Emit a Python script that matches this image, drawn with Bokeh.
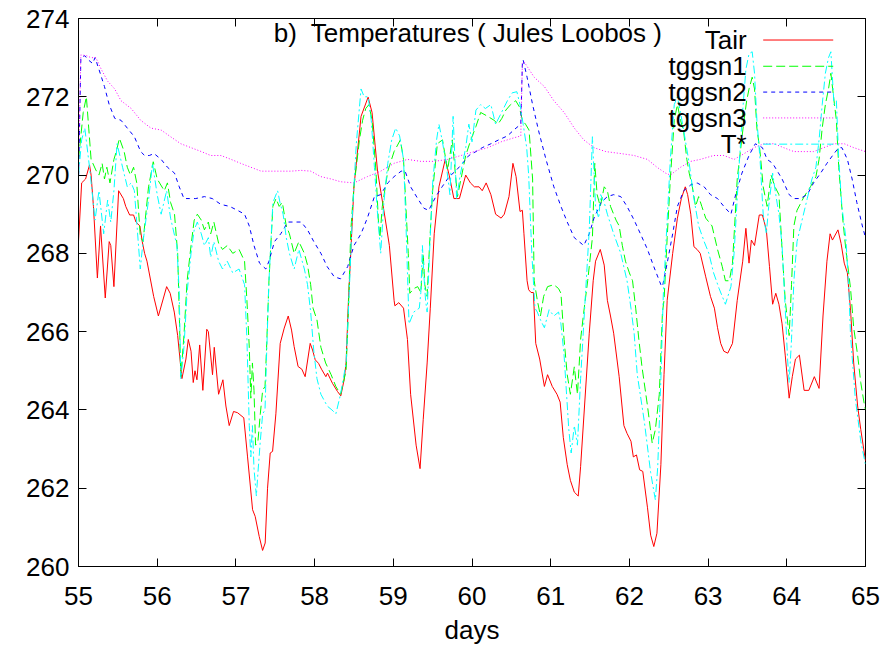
from bokeh.plotting import figure
from bokeh.models import Range1d, FixedTicker, LinearAxis, Label
from bokeh.embed import file_html
from bokeh.resources import INLINE

# ---------------- data: (day, temperature K) ----------------
tair = [(55.00, 268.3), (55.04, 269.8), (55.09, 269.9), (55.14, 270.26), (55.16, 270.0), (55.19, 269.2),
        (55.24, 267.37), (55.28, 268.7), (55.34, 266.86), (55.39, 268.3), (55.41, 268.2), (55.45, 267.15),
        (55.51, 269.6), (55.57, 269.4), (55.60, 269.2), (55.65, 268.98), (55.70, 268.98), (55.73, 268.8),
        (55.78, 268.7), (55.81, 268.3), (55.84, 268.0), (55.87, 267.8), (55.955, 266.9), (56.015, 266.4),
        (56.12, 267.15), (56.165, 266.98), (56.217, 266.5), (56.26, 265.9), (56.314, 264.8), (56.365, 265.3),
        (56.395, 265.8), (56.43, 265.5), (56.458, 264.7), (56.48, 265.0), (56.505, 264.77), (56.54, 265.66),
        (56.58, 264.5), (56.63, 266.06), (56.65, 266.0), (56.703, 264.9), (56.725, 265.6), (56.78, 264.4),
        (56.835, 264.77), (56.873, 264.1), (56.915, 263.6), (56.97, 263.96), (57.02, 263.93), (57.10, 263.8),
        (57.148, 262.8), (57.212, 261.45), (57.245, 261.28), (57.296, 260.77), (57.339, 260.41), (57.372, 260.6),
        (57.402, 262.0), (57.436, 262.9), (57.466, 262.94), (57.508, 263.9), (57.563, 265.7), (57.614, 266.09),
        (57.665, 266.4), (57.707, 266.04), (57.74, 265.62), (57.79, 265.11), (57.838, 265.04), (57.88, 264.85),
        (57.944, 265.7), (57.974, 265.53), (58.008, 265.28), (58.05, 265.19), (58.088, 265.04), (58.143, 264.85),
        (58.164, 264.94), (58.227, 264.68), (58.291, 264.47), (58.333, 264.36), (58.375, 264.77), (58.40, 265.2),
        (58.43, 266.8), (58.50, 269.7), (58.59, 271.5), (58.68, 271.99), (58.73, 271.6), (58.80, 270.1),
        (58.88, 269.1), (58.95, 268.2), (59.01, 266.8), (59.02, 266.66), (59.07, 266.74), (59.13, 266.6),
        (59.18, 265.8), (59.22, 264.4), (59.29, 263.1), (59.34, 262.5), (59.38, 263.75), (59.43, 265.2),
        (59.47, 266.6), (59.52, 268.5), (59.58, 269.7), (59.66, 270.4), (59.71, 270.0), (59.77, 269.4),
        (59.84, 269.4), (59.92, 270.0), (59.98, 269.8), (60.03, 269.7), (60.09, 269.7), (60.13, 269.6),
        (60.18, 269.8), (60.24, 269.5), (60.30, 269.0), (60.37, 268.9), (60.41, 269.0), (60.47, 269.45),
        (60.52, 270.3), (60.56, 269.96), (60.61, 269.07), (60.64, 269.1), (60.66, 268.5), (60.70, 267.3),
        (60.72, 267.07), (60.75, 267.0), (60.78, 267.0), (60.81, 265.7), (60.86, 265.3), (60.92, 264.6),
        (60.96, 264.9), (61.02, 264.6), (61.08, 264.4), (61.12, 264.2), (61.16, 263.3), (61.21, 262.6),
        (61.25, 262.2), (61.30, 261.9), (61.35, 261.8), (61.38, 262.55), (61.43, 264.1), (61.49, 265.96),
        (61.54, 267.3), (61.57, 267.8), (61.63, 268.1), (61.68, 267.7), (61.72, 266.8), (61.76, 266.4),
        (61.80, 265.96), (61.87, 264.85), (61.93, 263.6), (61.97, 263.4), (62.02, 263.2), (62.05, 262.8),
        (62.09, 262.85), (62.13, 262.47), (62.17, 262.43), (62.23, 261.5), (62.27, 260.8), (62.31, 260.51),
        (62.35, 260.85), (62.40, 262.6), (62.44, 264.9), (62.48, 266.8), (62.55, 268.0), (62.61, 268.9),
        (62.66, 269.4), (62.71, 269.7), (62.74, 269.5), (62.78, 269.0), (62.82, 268.17), (62.86, 268.1),
        (62.90, 268.0), (62.97, 267.4), (63.03, 266.9), (63.08, 266.6), (63.12, 266.1), (63.16, 265.7),
        (63.20, 265.5), (63.25, 265.45), (63.31, 265.7), (63.37, 266.8), (63.44, 267.8), (63.48, 268.64),
        (63.52, 267.75), (63.55, 268.34), (63.59, 268.2), (63.65, 268.98), (63.69, 268.98), (63.74, 268.6),
        (63.78, 267.66), (63.82, 266.7), (63.86, 266.98), (63.90, 266.7), (63.94, 266.2), (63.98, 265.4),
        (64.03, 264.3), (64.07, 264.85), (64.11, 265.3), (64.16, 265.4), (64.22, 264.5), (64.28, 264.5),
        (64.35, 264.85), (64.41, 264.55), (64.46, 266.4), (64.51, 267.8), (64.55, 268.5), (64.58, 268.34),
        (64.65, 268.6), (64.69, 268.25), (64.73, 267.75), (64.77, 267.5), (64.81, 266.55), (64.85, 265.2),
        (64.90, 264.1), (64.94, 263.5), (65.00, 262.7)]

tggsn1 = [(55.00, 270.4), (55.03, 271.0), (55.06, 271.6), (55.10, 272.0), (55.13, 271.2), (55.16, 270.4),
          (55.22, 270.13), (55.26, 270.0), (55.30, 270.3), (55.33, 269.9), (55.36, 270.2), (55.40, 269.8),
          (55.45, 270.4), (55.48, 270.6), (55.52, 270.94), (55.58, 270.6), (55.62, 270.2), (55.66, 270.0),
          (55.70, 270.2), (55.74, 269.8), (55.785, 268.43), (55.82, 268.3), (55.89, 269.7), (55.95, 270.34),
          (56.00, 269.9), (56.09, 269.6), (56.13, 269.8), (56.17, 269.3), (56.22, 269.0), (56.26, 268.0),
          (56.28, 266.5), (56.30, 264.85), (56.34, 265.9), (56.38, 267.3), (56.43, 268.2), (56.47, 268.85),
          (56.51, 269.0), (56.56, 268.85), (56.60, 268.6), (56.65, 268.8), (56.68, 268.5), (56.72, 268.8),
          (56.78, 268.26), (56.83, 268.1), (56.89, 268.2), (56.96, 268.0), (57.04, 268.1), (57.11, 267.8),
          (57.14, 266.8), (57.17, 265.6), (57.19, 264.3), (57.21, 265.2), (57.23, 264.5), (57.25, 263.1),
          (57.28, 263.2), (57.31, 263.9), (57.34, 264.5), (57.37, 264.6), (57.39, 265.6), (57.42, 267.3),
          (57.47, 269.2), (57.51, 269.4), (57.55, 269.2), (57.59, 269.3), (57.64, 268.7), (57.68, 268.5),
          (57.74, 268.0), (57.80, 268.3), (57.87, 268.0), (57.91, 267.7), (57.95, 267.2), (57.98, 266.6),
          (58.03, 266.3), (58.08, 265.6), (58.14, 265.2), (58.21, 264.9), (58.27, 264.6), (58.33, 264.4),
          (58.40, 265.0), (58.43, 266.6), (58.46, 268.6), (58.50, 269.7), (58.57, 270.9), (58.61, 271.4),
          (58.65, 271.7), (58.69, 271.8), (58.73, 271.4), (58.78, 270.1), (58.81, 268.85), (58.83, 268.4),
          (58.86, 269.2), (58.93, 270.1), (59.01, 270.6), (59.09, 270.9), (59.13, 270.4), (59.16, 269.2),
          (59.19, 268.0), (59.21, 266.98), (59.26, 267.1), (59.31, 267.15), (59.35, 267.0), (59.38, 268.0),
          (59.40, 267.2), (59.43, 266.9), (59.46, 268.2), (59.50, 269.6), (59.56, 270.8), (59.625, 270.9),
          (59.69, 270.13), (59.75, 270.9), (59.815, 269.45), (59.86, 269.9), (59.92, 270.5), (59.985, 270.9),
          (60.05, 271.24), (60.11, 271.6), (60.20, 271.5), (60.28, 271.4), (60.33, 271.3), (60.38, 271.45),
          (60.43, 271.66), (60.49, 271.8), (60.555, 271.9), (60.60, 271.75), (60.64, 271.4), (60.68, 271.3),
          (60.725, 271.15), (60.77, 269.9), (60.79, 267.3), (60.83, 266.8), (60.87, 266.4), (60.91, 266.9),
          (60.96, 267.15), (61.04, 267.2), (61.10, 267.1), (61.13, 266.98), (61.17, 265.8), (61.21, 264.9),
          (61.25, 264.4), (61.30, 265.1), (61.34, 264.4), (61.38, 265.8), (61.42, 266.5), (61.47, 267.3),
          (61.53, 268.4), (61.56, 270.3), (61.59, 269.5), (61.63, 269.2), (61.68, 269.7), (61.72, 269.6),
          (61.76, 269.2), (61.83, 268.85), (61.87, 268.7), (61.91, 268.2), (61.95, 267.8), (62.00, 267.5),
          (62.04, 267.3), (62.08, 266.6), (62.12, 265.8), (62.16, 265.1), (62.23, 264.1), (62.29, 263.15),
          (62.33, 263.5), (62.38, 264.4), (62.42, 266.5), (62.44, 266.8), (62.48, 268.4), (62.52, 269.9),
          (62.57, 271.4), (62.61, 271.8), (62.65, 271.4), (62.69, 271.1), (62.73, 270.4), (62.76, 270.05),
          (62.80, 269.7), (62.84, 269.2), (62.88, 269.45), (62.92, 269.2), (62.97, 268.9), (63.05, 268.7),
          (63.12, 268.1), (63.18, 267.66), (63.22, 267.3), (63.27, 267.3), (63.31, 267.75), (63.34, 268.8),
          (63.37, 269.9), (63.41, 270.6), (63.45, 271.3), (63.49, 271.9), (63.52, 272.2), (63.56, 272.5),
          (63.59, 272.2), (63.62, 271.2), (63.66, 270.6), (63.70, 269.7), (63.75, 269.2), (63.80, 270.0),
          (63.85, 269.7), (63.90, 269.5), (63.94, 268.1), (63.98, 266.8), (64.03, 265.9), (64.06, 267.2),
          (64.09, 268.7), (64.13, 269.1), (64.22, 269.45), (64.30, 269.7), (64.37, 269.96), (64.41, 270.4),
          (64.45, 271.2), (64.49, 271.8), (64.53, 272.2), (64.56, 272.6), (64.60, 271.9), (64.63, 271.4),
          (64.66, 270.2), (64.71, 268.9), (64.75, 268.1), (64.81, 267.1), (64.85, 266.1), (64.90, 265.4),
          (64.94, 264.7), (64.98, 264.2), (65.00, 264.0)]

tggsn2 = [(55.00, 269.8), (55.03, 273.0), (55.08, 273.05), (55.12, 272.95), (55.18, 272.85), (55.21, 273.0),
          (55.26, 272.7), (55.33, 272.26), (55.39, 271.8), (55.46, 271.45), (55.54, 271.4), (55.62, 271.2),
          (55.71, 270.98), (55.79, 270.6), (55.84, 270.5), (55.90, 270.5), (55.96, 270.55), (56.05, 270.4),
          (56.13, 270.2), (56.22, 270.05), (56.28, 269.7), (56.34, 269.4), (56.41, 269.4), (56.49, 269.4),
          (56.60, 269.45), (56.70, 269.4), (56.81, 269.25), (56.92, 269.2), (57.02, 269.1), (57.11, 269.0),
          (57.17, 268.7), (57.23, 268.2), (57.30, 267.75), (57.38, 267.6), (57.42, 267.8), (57.49, 268.3),
          (57.57, 268.5), (57.66, 268.8), (57.74, 268.8), (57.83, 268.8), (57.91, 268.6), (57.99, 268.3),
          (58.08, 268.0), (58.16, 267.66), (58.25, 267.4), (58.33, 267.35), (58.42, 267.66), (58.50, 268.2),
          (58.59, 268.5), (58.67, 268.9), (58.76, 269.45), (58.84, 269.5), (58.93, 269.8), (59.01, 269.96),
          (59.10, 270.1), (59.15, 270.1), (59.22, 269.7), (59.31, 269.4), (59.39, 269.15), (59.45, 269.1),
          (59.54, 269.45), (59.62, 269.7), (59.71, 269.96), (59.79, 270.1), (59.88, 270.3), (59.96, 270.5),
          (60.05, 270.6), (60.13, 270.7), (60.24, 270.8), (60.34, 270.9), (60.45, 271.0), (60.53, 271.15),
          (60.62, 271.3), (60.64, 272.85), (60.65, 272.94), (60.70, 272.5), (60.77, 271.8), (60.85, 271.1),
          (60.94, 270.4), (61.04, 269.7), (61.13, 269.2), (61.21, 268.8), (61.30, 268.4), (61.36, 268.3),
          (61.42, 268.2), (61.49, 268.5), (61.55, 268.9), (61.64, 269.3), (61.72, 269.45), (61.80, 269.5),
          (61.89, 269.45), (61.97, 269.2), (62.06, 268.85), (62.14, 268.5), (62.23, 268.1), (62.31, 267.66),
          (62.40, 267.2), (62.42, 267.15), (62.48, 267.75), (62.55, 268.5), (62.61, 269.2), (62.69, 269.6),
          (62.78, 269.75), (62.86, 269.8), (62.95, 269.7), (63.03, 269.5), (63.12, 269.4), (63.20, 269.2),
          (63.29, 269.0), (63.35, 269.5), (63.43, 270.05), (63.52, 270.5), (63.60, 270.8), (63.69, 270.7),
          (63.75, 270.4), (63.82, 270.3), (63.88, 270.1), (63.94, 269.9), (64.03, 269.5), (64.09, 269.4),
          (64.17, 269.4), (64.26, 269.5), (64.34, 269.8), (64.43, 270.05), (64.51, 270.3), (64.60, 270.55),
          (64.66, 270.7), (64.70, 270.7), (64.77, 270.4), (64.83, 269.9), (64.89, 269.3), (64.96, 268.7),
          (65.00, 268.4)]

tggsn3 = [(55.00, 270.3), (55.03, 273.07), (55.10, 273.05), (55.16, 273.0), (55.22, 273.0), (55.29, 272.7),
          (55.37, 272.4), (55.46, 272.2), (55.54, 271.9), (55.67, 271.7), (55.79, 271.4), (55.92, 271.2),
          (56.05, 271.15), (56.17, 270.98), (56.30, 270.8), (56.43, 270.7), (56.56, 270.6), (56.68, 270.5),
          (56.81, 270.5), (56.94, 270.4), (57.06, 270.3), (57.19, 270.2), (57.32, 270.1), (57.44, 270.1),
          (57.57, 270.1), (57.70, 270.1), (57.83, 270.12), (57.95, 270.1), (58.08, 269.96), (58.21, 269.9),
          (58.33, 269.83), (58.50, 269.8), (58.67, 269.96), (58.84, 270.1), (59.01, 270.3), (59.18, 270.4),
          (59.35, 270.35), (59.52, 270.35), (59.69, 270.4), (59.86, 270.5), (60.03, 270.6), (60.20, 270.7),
          (60.37, 270.85), (60.53, 270.95), (60.62, 271.0), (60.64, 272.85), (60.66, 272.9), (60.79, 272.5),
          (60.92, 272.26), (61.04, 271.9), (61.17, 271.6), (61.30, 271.2), (61.42, 270.9), (61.55, 270.7),
          (61.70, 270.6), (61.89, 270.55), (62.06, 270.5), (62.23, 270.4), (62.35, 270.2), (62.46, 270.05),
          (62.52, 270.0), (62.65, 270.2), (62.78, 270.35), (62.90, 270.4), (63.07, 270.5), (63.20, 270.5),
          (63.33, 270.4), (63.46, 270.55), (63.58, 270.7), (63.71, 270.8), (63.84, 270.8), (63.96, 270.7),
          (64.09, 270.6), (64.22, 270.6), (64.34, 270.6), (64.47, 270.7), (64.60, 270.8), (64.73, 270.8),
          (64.85, 270.7), (65.00, 270.6)]

tstar = [(55.00, 270.0), (55.04, 270.9), (55.08, 271.2), (55.14, 270.2), (55.21, 268.85), (55.26, 269.6),
         (55.32, 268.5), (55.37, 269.36), (55.41, 268.8), (55.45, 269.6), (55.49, 270.8), (55.56, 270.2),
         (55.62, 269.7), (55.67, 269.8), (55.71, 269.6), (55.785, 267.6), (55.82, 268.3), (55.89, 269.36),
         (55.94, 270.3), (56.00, 269.5), (56.05, 269.0), (56.12, 269.6), (56.17, 268.9), (56.25, 268.2),
         (56.28, 267.0), (56.30, 264.8), (56.34, 265.6), (56.38, 267.0), (56.43, 268.0), (56.47, 268.6),
         (56.51, 268.8), (56.56, 268.5), (56.60, 268.2), (56.65, 268.4), (56.68, 267.9), (56.72, 268.3),
         (56.78, 267.8), (56.83, 267.6), (56.89, 267.8), (56.96, 267.5), (57.04, 267.6), (57.11, 267.2),
         (57.14, 265.8), (57.17, 263.6), (57.19, 262.8), (57.21, 263.6), (57.23, 262.5), (57.26, 261.8),
         (57.28, 262.4), (57.31, 263.2), (57.34, 263.9), (57.37, 264.0), (57.39, 265.4), (57.42, 267.3),
         (57.47, 269.3), (57.53, 269.6), (57.56, 269.3), (57.60, 269.0), (57.64, 268.4), (57.68, 268.0),
         (57.74, 267.6), (57.80, 268.1), (57.87, 267.6), (57.91, 267.2), (57.95, 266.5), (57.99, 265.5),
         (58.03, 264.8), (58.08, 264.4), (58.16, 264.1), (58.22, 264.0), (58.27, 263.9), (58.33, 264.4),
         (58.40, 265.2), (58.44, 267.0), (58.48, 269.0), (58.53, 270.8), (58.59, 272.2), (58.63, 272.0),
         (58.68, 272.0), (58.72, 271.4), (58.76, 270.2), (58.80, 269.0), (58.84, 268.0), (58.88, 269.3),
         (58.93, 270.3), (58.98, 270.9), (59.03, 271.2), (59.08, 271.0), (59.13, 270.4), (59.16, 268.8),
         (59.18, 267.5), (59.20, 266.2), (59.26, 266.5), (59.33, 266.6), (59.35, 267.0), (59.37, 268.2),
         (59.39, 267.4), (59.41, 266.8), (59.43, 266.5), (59.46, 268.0), (59.50, 269.8), (59.55, 270.9),
         (59.58, 271.3), (59.62, 270.9), (59.67, 270.3), (59.72, 269.5), (59.76, 271.5), (59.805, 269.4),
         (59.85, 270.0), (59.92, 270.7), (59.96, 271.3), (60.00, 270.85), (60.05, 271.66), (60.11, 271.8),
         (60.17, 271.7), (60.24, 271.8), (60.30, 271.3), (60.39, 271.66), (60.45, 271.9), (60.51, 272.1),
         (60.57, 272.13), (60.61, 271.8), (60.65, 271.3), (60.695, 270.7), (60.72, 270.0), (60.76, 268.0),
         (60.80, 266.6), (60.83, 266.5), (60.87, 266.3), (60.92, 266.1), (60.98, 266.56), (61.04, 266.4),
         (61.10, 266.5), (61.13, 266.2), (61.17, 265.4), (61.23, 263.5), (61.26, 262.9), (61.30, 263.6),
         (61.34, 263.1), (61.38, 264.8), (61.44, 266.9), (61.49, 268.6), (61.53, 270.98), (61.57, 269.2),
         (61.61, 268.9), (61.635, 269.5), (61.68, 269.3), (61.72, 269.0), (61.80, 268.5), (61.89, 268.0),
         (61.97, 267.3), (62.02, 266.6), (62.06, 265.96), (62.10, 264.9), (62.19, 263.7), (62.27, 262.4),
         (62.33, 261.7), (62.36, 262.55), (62.40, 264.8), (62.43, 266.9), (62.48, 268.85), (62.52, 270.4),
         (62.57, 271.8), (62.61, 272.0), (62.65, 271.6), (62.71, 270.9), (62.76, 270.3), (62.82, 269.4),
         (62.88, 268.7), (62.95, 268.3), (63.01, 268.0), (63.07, 267.5), (63.14, 267.1), (63.22, 266.7),
         (63.29, 267.15), (63.33, 268.0), (63.39, 270.1), (63.43, 271.4), (63.48, 272.7), (63.52, 273.1),
         (63.56, 273.15), (63.59, 272.6), (63.62, 271.4), (63.66, 270.4), (63.70, 269.0), (63.74, 268.5),
         (63.77, 269.2), (63.82, 270.05), (63.86, 269.5), (63.90, 269.0), (63.94, 268.2), (63.98, 266.6),
         (64.01, 265.3), (64.03, 264.7), (64.06, 265.8), (64.09, 267.3), (64.13, 268.3), (64.20, 268.9),
         (64.26, 269.4), (64.32, 269.9), (64.37, 270.2), (64.41, 270.9), (64.45, 271.8), (64.49, 272.6),
         (64.53, 273.0), (64.56, 273.15), (64.60, 271.8), (64.63, 271.9), (64.66, 270.4), (64.70, 269.2),
         (64.75, 268.4), (64.79, 267.0), (64.81, 265.9), (64.87, 264.3), (64.94, 263.2), (65.00, 262.6)]

series_names = ["Tair", "tggsn1", "tggsn2", "tggsn3", "T*"]
series_data = [tair, tggsn1, tggsn2, tggsn3, tstar]

x_ticks = list(range(55, 66))
y_ticks = list(range(260, 275, 2))

title_text = "b)\u00a0 Temperatures ( Jules Loobos )"
x_label = "days"

# ---------------- styling ----------------
colors = ["#ff0000", "#00ff00", "#0000ff", "#ff00ff", "#00ffff"]
dashes = ["solid", "9 4", "4 4", "1 2", "8 3 2 3"]
FONT = "Liberation Sans"
FS = "26px"

p = figure(width=889, height=649, output_backend="svg", toolbar_location=None,
           x_range=Range1d(55, 65), y_range=Range1d(260, 274),
           min_border_left=78, min_border_right=24, min_border_top=18, min_border_bottom=83)
p.background_fill_color = "white"
p.border_fill_color = "white"
p.outline_line_color = "black"
p.outline_line_width = 1
p.outline_line_alpha = 1
p.grid.visible = False

p.xaxis.ticker = FixedTicker(ticks=x_ticks)
p.yaxis.ticker = FixedTicker(ticks=y_ticks)
for ax in p.xaxis + p.yaxis:
    ax.axis_line_color = "black"
    ax.major_tick_line_color = "black"
    ax.major_tick_in = 8
    ax.major_tick_out = 0
    ax.minor_tick_line_color = None
    ax.major_label_text_font = FONT
    ax.major_label_text_font_size = FS
    ax.major_label_text_color = "black"
    ax.axis_label_text_font = FONT
    ax.axis_label_text_font_size = FS
    ax.axis_label_text_font_style = "normal"
    ax.axis_label_text_color = "black"
p.xaxis.axis_label = x_label
p.xaxis.major_label_standoff = 20
p.xaxis.axis_label_standoff = 7
p.yaxis.major_label_standoff = 9

# mirrored ticks on top and right (drawn as unlabeled minor ticks)
top_ax = LinearAxis(ticker=FixedTicker(ticks=[], minor_ticks=x_ticks))
right_ax = LinearAxis(ticker=FixedTicker(ticks=[], minor_ticks=y_ticks))
for ax in (top_ax, right_ax):
    ax.axis_line_color = None
    ax.major_tick_line_color = None
    ax.minor_tick_line_color = "black"
    ax.minor_tick_in = 8
    ax.minor_tick_out = 0
p.add_layout(top_ax, "above")
p.add_layout(right_ax, "right")

for data, c, ds in zip(series_data, colors, dashes):
    days = [d for d, _ in data]
    vals = [v for _, v in data]
    p.line(days, vals, line_color=c, line_width=1, line_dash=ds)

# title inside the frame (gnuplot style)
p.add_layout(Label(x=57.48, y=273.64, text=title_text, text_font=FONT, text_font_size=FS,
                   text_baseline="middle", text_align="left", text_color="black"))

# gnuplot-style key: label right aligned, sample to the right
key_text_x = 63.49
key_x0, key_x1 = 63.70, 64.59
key_rows = [273.45, 272.78, 272.12, 271.46, 270.79]
for name, c, ds, ky in zip(series_names, colors, dashes, key_rows):
    p.add_layout(Label(x=key_text_x, y=ky, text=name, text_font=FONT, text_font_size=FS,
                       text_baseline="middle", text_align="right", text_color="black"))
    p.line([key_x0, key_x1], [ky, ky], line_color=c, line_width=1, line_dash=ds)

open("out.html", "w").write(file_html(p, INLINE))
